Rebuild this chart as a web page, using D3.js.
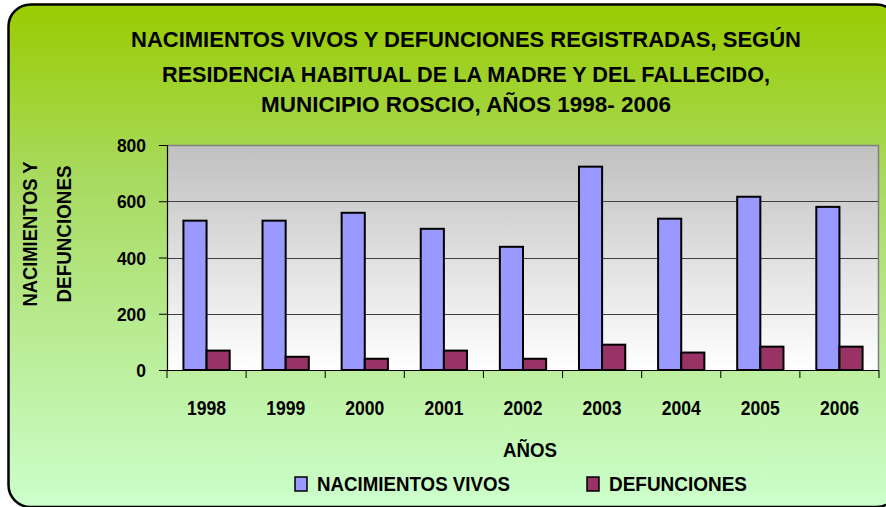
<!DOCTYPE html>
<html>
<head>
<meta charset="utf-8">
<script src="https://cdn.jsdelivr.net/npm/d3@7"></script>
<style>
  html, body { margin: 0; padding: 0; background: #ffffff; }
  svg { display: block; }
  text { font-family: "Liberation Sans Narrow", "Arial Narrow", "Liberation Sans", Arial, sans-serif; font-weight: bold; fill: #000; }
</style>
</head>
<body>
<svg id="chart" width="886" height="507"></svg>
<script>
const years = ["1998","1999","2000","2001","2002","2003","2004","2005","2006"];
const nacimientos = [531, 531, 559, 502, 438, 723, 538, 616, 580];
const defunciones = [69, 47, 40, 69, 40, 90, 62, 83, 83];
const seriesNames = ["NACIMIENTOS VIVOS", "DEFUNCIONES"];
const yTicks = [0, 200, 400, 600, 800];
const titleLines = [
  "NACIMIENTOS VIVOS Y DEFUNCIONES REGISTRADAS, SEGÚN",
  "RESIDENCIA HABITUAL DE LA MADRE Y DEL FALLECIDO,",
  "MUNICIPIO ROSCIO, AÑOS 1998- 2006"
];
const yTitleLines = ["NACIMIENTOS Y", "DEFUNCIONES"];
const xTitle = "AÑOS";

const colors = ["#9999ff", "#993366"];
const svg = d3.select("#chart");
const defs = svg.append("defs");

// squeeze text horizontally to mimic a narrow font
function fit(sel, w) {
  sel.attr("textLength", w).attr("lengthAdjust", "spacingAndGlyphs");
}

const bg = defs.append("linearGradient").attr("id","bgGrad").attr("x1",0).attr("y1",0).attr("x2",0).attr("y2",1);
bg.append("stop").attr("offset","0%").attr("stop-color","#99cc00");
bg.append("stop").attr("offset","35%").attr("stop-color","#a8da60");
bg.append("stop").attr("offset","100%").attr("stop-color","#ccffcc");

const pg = defs.append("linearGradient").attr("id","plotGrad").attr("x1",0).attr("y1",0).attr("x2",0).attr("y2",1);
pg.append("stop").attr("offset","0%").attr("stop-color","#c0c0c0");
pg.append("stop").attr("offset","100%").attr("stop-color","#ffffff");

// outer panel
svg.append("rect")
  .attr("x", 8.5).attr("y", 4.5).attr("width", 890).attr("height", 502.5)
  .attr("rx", 22).attr("ry", 22)
  .attr("fill", "url(#bgGrad)").attr("stroke", "#000").attr("stroke-width", 2.5);

// title
const titleBase = [47, 82, 112];
const titleWidths = [670, 608, 410];
titleLines.forEach((t, i) => {
  svg.append("text").attr("x", 466).attr("y", titleBase[i])
    .attr("text-anchor", "middle").attr("font-size", 21.5)
    .call(fit, titleWidths[i])
    .text(t);
});

const m = {left: 167, right: 879, top: 145, bottom: 370};
const x = d3.scaleBand().domain(years).range([m.left, m.right]).paddingInner(0).paddingOuter(0);
const y = d3.scaleLinear().domain([0, 800]).range([m.bottom, m.top]);

// plot background
svg.append("rect").attr("x", m.left).attr("y", m.top)
  .attr("width", m.right - m.left).attr("height", m.bottom - m.top)
  .attr("fill", "url(#plotGrad)");

// gridlines
svg.append("g").selectAll("line").data(yTicks.filter(d => d > 0)).join("line")
  .attr("x1", m.left).attr("x2", m.right)
  .attr("y1", d => Math.round(y(d)) + 0.5).attr("y2", d => Math.round(y(d)) + 0.5)
  .attr("stroke", "#404040").attr("stroke-width", 1);

// plot border right/top
svg.append("path")
  .attr("d", `M${m.left},${m.top + 0.5}H${m.right - 0.5}V${m.bottom}`)
  .attr("fill", "none").attr("stroke", "#808080").attr("stroke-width", 1.5);

// bars
const groupW = x.bandwidth() * 0.585;
const barW = groupW / 2;
const offset = (x.bandwidth() - groupW) / 2;
const series = [nacimientos, defunciones];
series.forEach((vals, s) => {
  svg.append("g").selectAll("rect").data(vals).join("rect")
    .attr("x", (d, i) => x(years[i]) + offset + s * barW)
    .attr("y", d => y(d))
    .attr("width", barW)
    .attr("height", d => y(0) - y(d))
    .attr("fill", colors[s]).attr("stroke", "#000").attr("stroke-width", 2);
});

// y axis
const yAxis = d3.axisLeft(y).tickValues(yTicks).tickSize(8).tickPadding(13);
const gy = svg.append("g").attr("transform", `translate(${m.left},0)`).call(yAxis);
gy.select(".domain").attr("stroke", "#000").attr("stroke-width", 1.2);
gy.selectAll(".tick line").attr("stroke", "#000");
gy.selectAll(".tick text").attr("font-size", 18.5).attr("font-family", null).attr("dy", "0.36em")
  .each(function(d) { d3.select(this).call(fit, String(d).length * 9.7); });

// x axis
const xTickPos = years.map(d => x(d)).concat([m.right]);
const gx = svg.append("g");
gx.append("line").attr("x1", m.left).attr("x2", m.right).attr("y1", m.bottom + 0.5).attr("y2", m.bottom + 0.5)
  .attr("stroke", "#000").attr("stroke-width", 1.2);
gx.selectAll("line.t").data(xTickPos).join("line").attr("class","t")
  .attr("x1", d => d).attr("x2", d => d).attr("y1", m.bottom).attr("y2", m.bottom + 8)
  .attr("stroke", "#000");
const xAxis = d3.axisBottom(x).tickSize(0).tickPadding(0);
const gxl = svg.append("g").attr("transform", `translate(0,${m.bottom})`).call(xAxis);
gxl.select(".domain").remove();
gxl.selectAll(".tick text").attr("font-size", 21).attr("font-family", null).attr("dy", null).attr("y", 45)
  .call(fit, 39);

// axis titles
svg.append("text").attr("x", 530).attr("y", 457).attr("text-anchor", "middle").attr("font-size", 20)
  .call(fit, 54).text(xTitle);
const yTitleBase = [37, 71];
const yTitleLen = [145, 137];
yTitleLines.forEach((t, i) => {
  svg.append("text").attr("transform", `translate(${yTitleBase[i]},234) rotate(-90)`)
    .attr("text-anchor", "middle").attr("font-size", 19.5)
    .call(fit, yTitleLen[i]).text(t);
});

// legend
const legX = [295, 587];
const legLen = [193, 138];
seriesNames.forEach((n, i) => {
  svg.append("rect").attr("x", legX[i]).attr("y", 477).attr("width", 12).attr("height", 14)
    .attr("fill", colors[i]).attr("stroke", "#000").attr("stroke-width", 1.5);
  svg.append("text").attr("x", legX[i] + 22).attr("y", 491).attr("font-size", 19.5)
    .call(fit, legLen[i]).text(n);
});
</script>
</body>
</html>
